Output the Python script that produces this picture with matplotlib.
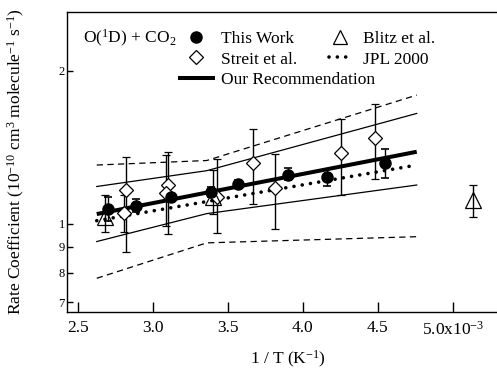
import numpy as np
import matplotlib
matplotlib.use("Agg")
import matplotlib.pyplot as plt
from matplotlib.lines import Line2D

plt.rcParams['font.family'] = ['Liberation Serif', 'DejaVu Serif']
plt.rcParams['mathtext.fontset'] = 'custom'
plt.rcParams['mathtext.rm'] = 'Liberation Serif'
plt.rcParams['mathtext.it'] = 'Liberation Serif:italic'
plt.rcParams['mathtext.bf'] = 'Liberation Serif:bold'

# ---- data (1/T in 1e-3 K^-1, k in 1e-10 cm3 molecule-1 s-1) ----
tw_x = [2.70, 2.89, 3.12, 3.39, 3.57, 3.90, 4.16, 4.55]
tw_k = [1.070, 1.085, 1.127, 1.156, 1.197, 1.247, 1.234, 1.315]
tw_lo = [1.012, 1.054, 1.105, 1.130, 1.177, 1.219, 1.186, 1.229]
tw_hi = [1.128, 1.118, 1.150, 1.180, 1.217, 1.285, 1.280, 1.401]

st_x = [2.82, 2.81, 3.10, 3.09, 3.43, 3.67, 3.815, 4.255, 4.48]
st_k = [1.168, 1.050, 1.192, 1.148, 1.130, 1.318, 1.174, 1.380, 1.473]
st_lo = [0.878, 0.964, 0.954, 0.990, 0.957, 1.093, 0.976, 1.139, 1.223]
st_hi = [1.355, 1.140, 1.386, 1.365, 1.341, 1.537, 1.370, 1.605, 1.718]

bl_x = [2.68, 3.40, 5.137]
bl_k = [1.032, 1.127, 1.113]
bl_lo = [0.963, 1.045, 1.029]
bl_hi = [1.139, 1.275, 1.192]

rec_x = [2.627, 4.76]
rec_k = [1.045, 1.386]
rec_up_x = [2.627, 3.36, 4.76]
rec_up_k = [1.184, 1.272, 1.649]
rec_lo_x = [2.627, 3.36, 4.76]
rec_lo_k = [0.9225, 1.047, 1.192]

jpl_x = [2.627, 4.76]
jpl_k = [1.014, 1.305]
jpl_up_x = [2.627, 3.36, 4.76]
jpl_up_k = [1.305, 1.332, 1.792]
jpl_lo_x = [2.627, 3.36, 4.76]
jpl_lo_k = [0.781, 0.917, 0.943]

xticks = [2.5, 3.0, 3.5, 4.0, 4.5, 5.0]
xticklabels = ['2.5', '3.0', '3.5', '4.0', '4.5', '5.0x10$^{-3}$']
yticks = [0.7, 0.8, 0.9, 1.0, 2.0]
yticklabels = ['7', '8', '9', '1', '2']


def err(k, lo, hi):
    k = np.asarray(k); lo = np.asarray(lo); hi = np.asarray(hi)
    return np.vstack([k - lo, hi - k])


fig = plt.figure(figsize=(4.97, 3.70), dpi=100)
ax = fig.add_axes([0.1348, 0.1568, 0.8652, 0.8108])
ax.set_yscale('log')

# uncertainty lines
ax.plot(jpl_up_x, jpl_up_k, color='black', lw=0.9, ls=(0, (5, 3.5)))
ax.plot(jpl_lo_x, jpl_lo_k, color='black', lw=0.9, ls=(0, (5, 3.5)))
ax.plot(rec_up_x, rec_up_k, color='black', lw=0.9)
ax.plot(rec_lo_x, rec_lo_k, color='black', lw=0.9)
ax.plot(jpl_x, jpl_k, color='black', lw=2.6, ls=(0, (0.01, 2.3)),
        dash_capstyle='round')
ax.plot(rec_x, rec_k, color='black', lw=2.9, solid_capstyle='butt')

ekw = dict(ecolor='black', elinewidth=1.0, capsize=3, capthick=1.2, ls='none')
ax.errorbar(st_x, st_k, yerr=err(st_k, st_lo, st_hi), marker='D', ms=7.5,
            mfc='white', mec='black', mew=0.9, **ekw)
ax.errorbar(bl_x, bl_k, yerr=err(bl_k, bl_lo, bl_hi), marker='^', ms=11,
            mfc='none', mec='black', mew=0.9, **ekw)
ax.errorbar(tw_x, tw_k, yerr=err(tw_k, tw_lo, tw_hi), marker='o', ms=8,
            mfc='black', mec='black', **ekw)

ax.set_xlim(2.4287, 5.295)
ax.set_ylim(0.6703, 2.612)
ax.set_xticks(xticks)
ax.set_xticklabels(xticklabels)
ax.set_yticks(yticks)
ax.set_yticklabels(yticklabels)
ax.yaxis.set_minor_locator(matplotlib.ticker.NullLocator())
ax.xaxis.set_minor_locator(matplotlib.ticker.NullLocator())
ax.tick_params(axis='x', direction='in', length=7, width=1.0, pad=6,
               labelsize=12.5, top=False)
ax.tick_params(axis='y', direction='in', length=4, width=1.0, pad=1.5,
               labelsize=9, right=False)
for s in ['left', 'bottom', 'top']:
    ax.spines[s].set_linewidth(1.0)
ax.spines['right'].set_visible(False)

ax.set_ylabel('Rate Coefficient (10$^{-10}$ cm$^{3}$ molecule$^{-1}$ s$^{-1}$)',
              fontsize=12.5)
ax.yaxis.set_label_coords(-0.093, 0.5)
ax.set_xlabel('1 / T (K$^{-1}$)', fontsize=12.5)
ax.xaxis.set_label_coords(0.514, -0.123)

ax.text(0.0365, 0.8967, 'O($^{1}$D) + CO$_{2}$', transform=ax.transAxes,
        fontsize=12.5, va='baseline', ha='left')

h_tw = Line2D([], [], color='black', marker='o', ms=8, ls='none')
h_st = Line2D([], [], color='black', marker='D', ms=7.5, mfc='white', mew=0.9,
              ls='none')
h_rec = Line2D([], [], color='black', lw=2.9)
h_bl = Line2D([], [], color='black', marker='^', ms=10, mfc='none', mew=0.9,
              ls='none')
h_jpl = Line2D([], [], color='black', lw=2.6, ls=(0, (0.01, 2.3)),
               dash_capstyle='round')

leg1 = ax.legend([h_tw, h_st, h_rec], ['This Work', 'Streit et al.',
                 'Our Recommendation'], loc='upper left',
                 bbox_to_anchor=(0.2628, 0.937), frameon=False, fontsize=12.5,
                 handlelength=1.9, handletextpad=0.45, labelspacing=0.25,
                 borderpad=0, borderaxespad=0)
ax.add_artist(leg1)
ax.legend([h_bl, h_jpl], ['Blitz et al.', 'JPL 2000'], loc='upper left',
          bbox_to_anchor=(0.609, 0.937), frameon=False, fontsize=12.5,
          handlelength=1.3, handletextpad=0.65, labelspacing=0.25,
          borderpad=0, borderaxespad=0)

fig.savefig('out.png', dpi=100)
